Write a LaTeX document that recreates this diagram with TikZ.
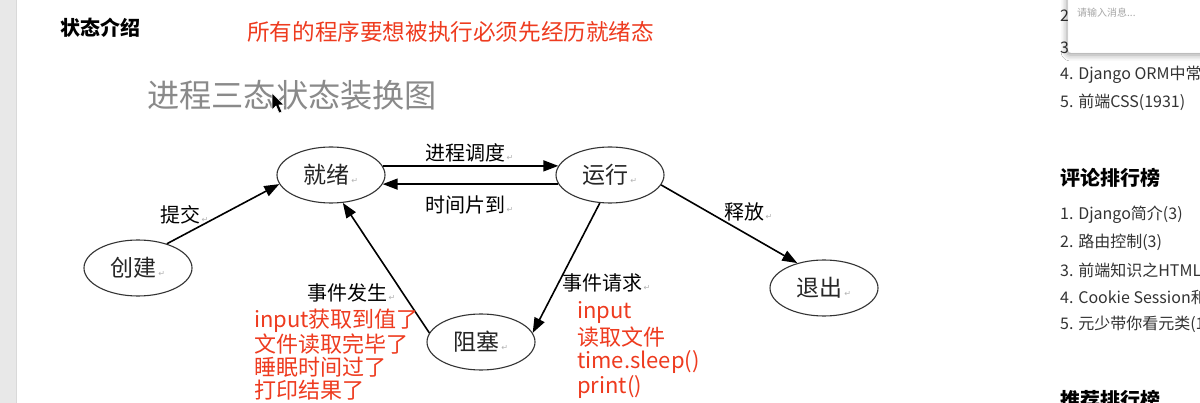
\documentclass[tikz,border=0pt]{standalone}
\usepackage{fontspec}
\setmainfont{Noto Sans CJK SC}
\newfontfamily\symfont{DejaVu Sans}
\usetikzlibrary{shapes.geometric,arrows.meta,shadows.blur}
\definecolor{notered}{HTML}{EE3B1F}
\definecolor{titlegray}{HTML}{8A8A8A}
\definecolor{sidetext}{HTML}{333333}
\newcommand{\retmark}{{\symfont\fontsize{8}{8}\selectfont\color{gray!60}\,↵}}

\tikzset{
  stateshape/.style={draw=black!80, line width=1.1pt, ellipse, minimum width=108pt, minimum height=56pt, inner sep=0pt, font=\fontsize{23}{23}\selectfont, text=black!85},
  trans/.style={line width=1.6pt, -{Triangle[length=15pt,width=11pt]}},
  lbl/.style={inner sep=0pt, anchor=west, font=\fontsize{20}{20}\selectfont},
  redtxt/.style={inner sep=0pt, anchor=west, text=notered, font=\fontsize{22}{22}\selectfont},
  sidetxt/.style={inner sep=0pt, anchor=west, text=sidetext, font=\fontsize{16}{16}\selectfont},
  sidehead/.style={inner sep=0pt, anchor=west, font=\bfseries\fontsize{20}{20}\selectfont}
}

\begin{document}
\begin{tikzpicture}[x=1pt, y=-1pt]
    \useasboundingbox (0,0) rectangle (1200,403);
    % Page
    \fill[white] (0,0) rectangle (1200,403);
    \fill[black!9] (0,0) rectangle (16,403);
    \draw[black!15] (16,0) -- (16,403);

    % Headings
    \node[sidehead] (intro) at (60,28) {状态介绍};
    \node[redtxt, font=\fontsize{22.6}{22.6}\selectfont] (note) at (247,32) {所有的程序要想被执行必须先经历就绪态};
    \node[inner sep=0pt, anchor=west, text=titlegray, font=\fontsize{32.2}{32.2}\selectfont] (title) at (147,95) {进程三态状态装换图};

    % Mouse pointer
    \filldraw[black, draw=white, line width=0.6pt] (272,93) -- (272,110) -- (276,106) -- (279,113) -- (282,112) -- (279,105) -- (284,105) -- cycle;

    % States
    \node[stateshape] (chuangjian) at (138,268) {创建\retmark};
    \node[stateshape] (jiuxu) at (331,175) {就绪\retmark};
    \node[stateshape] (yunxing) at (610,175) {运行\retmark};
    \node[stateshape] (zuse) at (481,342) {阻塞\retmark};
    \node[stateshape] (tuichu) at (824,288) {退出\retmark};

    % Transitions
    \draw[trans] (chuangjian.40) -- (jiuxu.190);
    \draw[trans] (jiuxu.10) -- (yunxing.170);
    \draw[trans] (yunxing.190) -- (jiuxu.350);
    \draw[trans] (yunxing.349) -- (tuichu.137);
    \draw[trans] (yunxing.250) -- (zuse.10);
    \draw[trans] (zuse.170) -- (jiuxu.293);

    % Transition labels
    \node[lbl] (submit) at (160,215) {提交\retmark};
    \node[lbl] (dispatch) at (425,153) {进程调度\retmark};
    \node[lbl] (timeout) at (425,205) {时间片到\retmark};
    \node[lbl] (release) at (724,212) {释放\retmark};
    \node[lbl] (request) at (562,283) {事件请求\retmark};
    \node[lbl] (occur) at (307,293) {事件发生\retmark};

    % Notes in red
    \foreach \txt [count=\i] in {input获取到值了, 文件读取完毕了, 睡眠时间过了, 打印结果了}
        \node[redtxt] (occur\i) at (254, 298+23*\i) {\txt};
    \foreach \txt [count=\i] in {input, 读取文件, {time.sleep()}, {print()}}
        \node[redtxt] (req\i) at (577, 287+25*\i) {\txt};

    % Sidebar
    \node[sidetxt] (hot2) at (1060,16) {2};
    \node[sidetxt] (hot3) at (1060,48) {3};
    \node[sidetxt] (hot4) at (1060,75) {4. Django ORM中常};
    \node[sidetxt] (hot5) at (1060,102) {5. 前端CSS(1931)};
    \node[sidehead] (comhead) at (1060,178) {评论排行榜};
    \node[sidetxt] (com1) at (1060,215) {1. Django简介(3)};
    \node[sidetxt] (com2) at (1060,242) {2. 路由控制(3)};
    \node[sidetxt] (com3) at (1060,270) {3. 前端知识之HTML};
    \node[sidetxt] (com4) at (1060,297) {4. Cookie Session和};
    \node[sidetxt] (com5) at (1060,324) {5. 元少带你看元类(1};
    \node[sidehead] (rechead) at (1060,400) {推荐排行榜};

    % Message box
    \filldraw[fill=white, draw=black!12, rounded corners=3pt, blur shadow={shadow xshift=-1pt, shadow yshift=-2pt, shadow blur radius=6pt}] (1068,-6) rectangle (1212,53);
    \node[inner sep=0pt, anchor=west, text=black!35, font=\fontsize{10}{10}\selectfont] (msg) at (1077,13) {请输入消息...};
\end{tikzpicture}
\end{document}
